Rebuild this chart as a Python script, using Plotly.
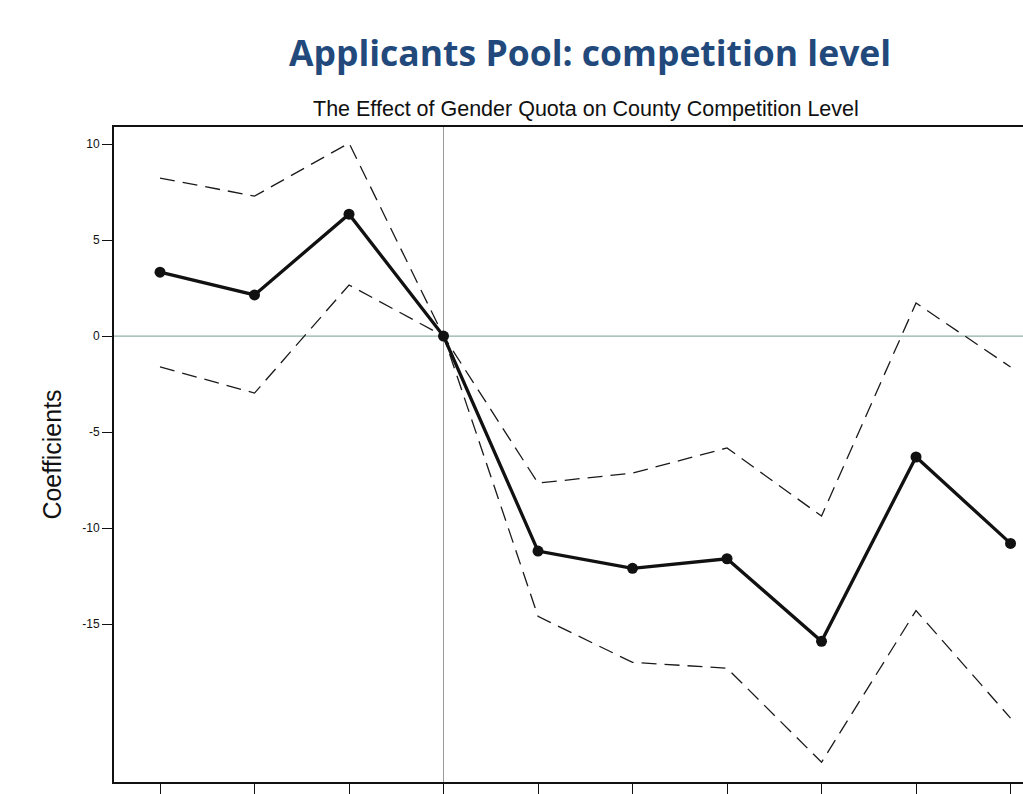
import plotly.graph_objects as go

# Event-time periods relative to the quota (period 3 is the reference)
periods = [0, 1, 2, 3, 4, 5, 6, 7, 8, 9]
coef = [3.33, 2.14, 6.35, 0.0, -11.2, -12.1, -11.6, -15.9, -6.3, -10.8]
upper_ci = [8.23, 7.29, 10.05, 0.0, -7.66, -7.14, -5.83, -9.38, 1.72, -1.61]
lower_ci = [-1.61, -2.97, 2.66, 0.0, -14.6, -17.0, -17.3, -22.2, -14.3, -19.9]
y_ticks = [10, 5, 0, -5, -10, -15]
ref_period = 3

fig = go.Figure()

for band in (upper_ci, lower_ci):
    fig.add_trace(go.Scatter(
        x=periods, y=band, mode="lines",
        line=dict(color="#1a1a1a", width=1.3, dash="15px,8px"),
        hoverinfo="skip", showlegend=False,
    ))

fig.add_trace(go.Scatter(
    x=periods, y=coef, mode="lines+markers",
    line=dict(color="#111111", width=3.3),
    marker=dict(color="#111111", size=11),
    showlegend=False,
))

# reference lines
fig.add_shape(type="line", xref="x", yref="paper", x0=ref_period, x1=ref_period,
              y0=0, y1=1, line=dict(color="#9a9a9a", width=1), layer="below")
fig.add_shape(type="line", xref="paper", yref="y", x0=0, x1=1, y0=0, y1=0,
              line=dict(color="#8fb0a6", width=1.2), layer="below")

fig.add_annotation(text="<b>Applicants Pool: competition level</b>",
                   xref="paper", yref="paper", x=0.524, y=1.0, xanchor="center",
                   yanchor="bottom", yshift=49, showarrow=False,
                   font=dict(family="Open Sans", size=35.5, color="#22497c"))
fig.add_annotation(text="The Effect of Gender Quota on County Competition Level",
                   xref="paper", yref="paper", x=0.519, y=1.0, xanchor="center",
                   yanchor="bottom", yshift=4, showarrow=False,
                   font=dict(family="Liberation Sans, Arial", size=21.5, color="#111111"))

fig.update_xaxes(
    range=[-0.487, 9.132], tickvals=periods, ticktext=[""] * len(periods),
    ticks="outside", ticklen=10, tickwidth=1.2, tickcolor="#111111",
    showline=True, linecolor="#111111", linewidth=2, mirror=True,
    showgrid=False, zeroline=False,
)
fig.update_yaxes(
    range=[-23.23, 10.89], tickvals=y_ticks, ticktext=[str(v) for v in y_ticks],
    ticks="outside", ticklen=10, tickwidth=1.2, tickcolor="#111111",
    showline=True, linecolor="#111111", linewidth=2,
    showgrid=False, zeroline=False,
    tickfont=dict(family="Liberation Sans, Arial", size=12, color="#111111"),
    title=dict(text="Coefficients", standoff=14,
               font=dict(family="Liberation Sans, Arial", size=25, color="#111111")),
)

fig.update_layout(
    width=1023, height=794,
    margin=dict(l=114, r=0, t=127, b=12),
    paper_bgcolor="white", plot_bgcolor="white",
)

fig.write_html("out.html")
